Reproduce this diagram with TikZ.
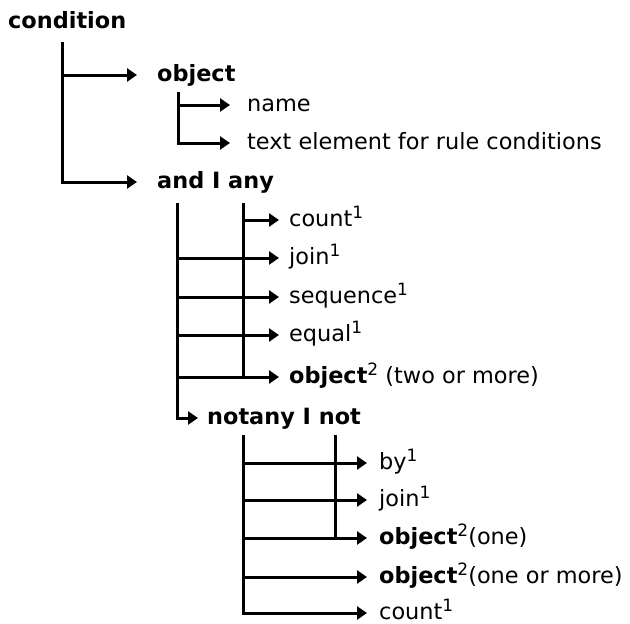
\documentclass[tikz,border=0pt]{standalone}
\usepackage{fontspec}
\setmainfont{DejaVu Sans}
\usetikzlibrary{arrows.meta}
\newcommand\supx[1]{\raisebox{8pt}{\fontsize{17}{17}\selectfont\mdseries #1}}
\tikzset{
  arr/.style={-{Triangle[length=10pt,width=13pt]}, line width=3pt},
  bar/.style={line width=3pt},
  lbl/.style={anchor=mid west, inner sep=0pt, font=\fontsize{22.4}{26}\selectfont},
  key/.style={lbl, font=\fontsize{22.4}{26}\selectfont\bfseries},
}

\begin{document}
\fontsize{22.4}{26}\selectfont
\begin{tikzpicture}[x=1pt,y=-1pt]
\useasboundingbox (0,0) rectangle (630,624);
% labels
\node[key, anchor=base west] (cond) at (8,28) {condition};
\node[key] (obj) at (157,75) {object};
\node[lbl] (name) at (247,105) {name};
\node[lbl] (txt) at (247,143) {text element for rule conditions};
\node[key] (any) at (157,182) {and I any};
\node[lbl] (cntA) at (289,220) {count\supx1};
\node[lbl] (joinA) at (289,258) {join\supx1};
\node[lbl] (seq) at (289,297) {sequence\supx1};
\node[lbl] (eq) at (289,335) {equal\supx1};
\node[lbl] (objA) at (289,377) {\textbf{object}\supx2 (two or more)};
\node[key] (nany) at (207,418) {notany I not};
\node[lbl] (by) at (379,463) {by\supx1};
\node[lbl] (joinB) at (379,500) {join\supx1};
\node[lbl] (objB) at (379,538) {\textbf{object}\supx2(one)};
\node[lbl] (objC) at (379,577) {\textbf{object}\supx2(one or more)};
\node[lbl] (cntB) at (379,613) {count\supx1};
% trunk points
\coordinate (c0) at (62,42);
\coordinate (o0) at (178,92);
\coordinate (a0) at (177,203);
\coordinate (a1) at (243,203);
\coordinate (n0) at (243,435);
\coordinate (n1) at (335,435);
% condition
\draw[arr, shorten >=20pt] (c0 |- obj.mid west) -- (obj.mid west);
\draw[arr, shorten >=20pt] (c0) |- (any.mid west);
% object
\draw[arr, shorten >=17pt] (o0 |- name.mid west) -- (name.mid west);
\draw[arr, shorten >=17pt] (o0) |- (txt.mid west);
% and I any
\draw[bar] (a1) -- (a1 |- objA.mid west);
\draw[arr, shorten >=10pt] (a1 |- cntA.mid west) -- (cntA.mid west);
\foreach \n in {joinA,seq,eq,objA}
  \draw[arr, shorten >=10pt] (a0 |- \n.mid west) -- (\n.mid west);
\draw[arr, shorten >=9pt] (a0) |- (nany.mid west);
% notany I not
\draw[bar] (n1) -- (n1 |- objB.mid west);
\foreach \n in {by,joinB,objB,objC}
  \draw[arr, shorten >=12pt] (n0 |- \n.mid west) -- (\n.mid west);
\draw[arr, shorten >=12pt] (n0) |- (cntB.mid west);
\end{tikzpicture}
\end{document}
